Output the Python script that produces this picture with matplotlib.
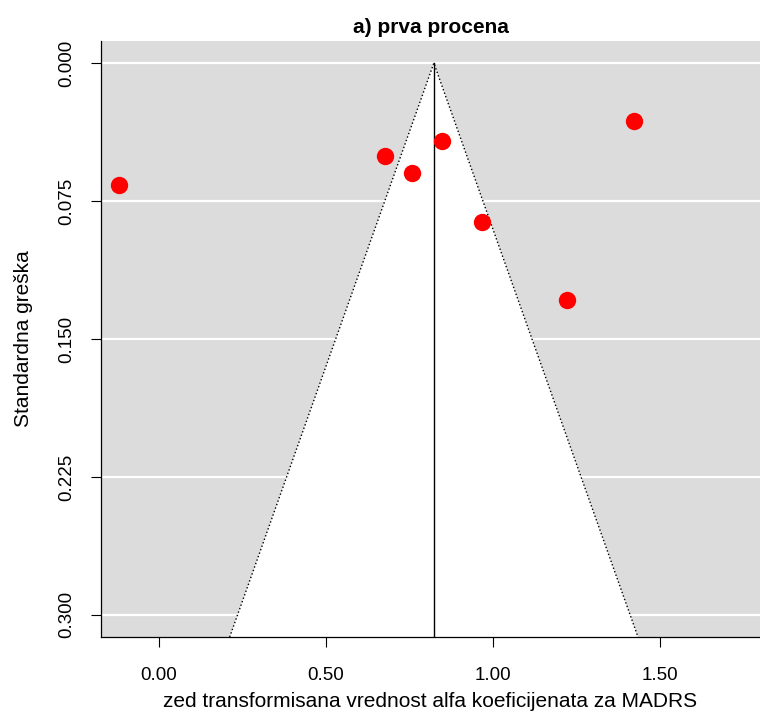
import numpy as np
import matplotlib
matplotlib.use("Agg")
import matplotlib.pyplot as plt

# effect sizes (zed transformed alpha) and their standard errors
yi = [-0.119, 0.678, 0.758, 0.848, 0.967, 1.221, 1.422]
sei = [0.0661, 0.0507, 0.0596, 0.0422, 0.0862, 0.129, 0.0315]
est = 0.823  # pooled estimate

xticks = [0.0, 0.5, 1.0, 1.5]
yticks = [0.000, 0.075, 0.150, 0.225, 0.300]
se_max = 0.312

plt.rcParams['font.family'] = ['Liberation Sans', 'DejaVu Sans']

fig = plt.figure(figsize=(7.6, 7.13), dpi=100)
ax = fig.add_axes([101 / 760, 1 - 637 / 713, 659 / 760, 596 / 713])
ax.set_facecolor('#dcdcdc')

# horizontal grid lines in white
for y in yticks:
    ax.axhline(y, color='white', lw=1.6, zorder=1)

# funnel region (pseudo confidence interval)
fx = [est - 1.96 * se_max, est, est + 1.96 * se_max]
fy = [se_max, 0, se_max]
ax.fill(fx, fy, color='white', zorder=2, lw=0)
ax.plot(fx, fy, color='black', lw=1.0, ls=':', zorder=3)
ax.plot([est, est], [0, se_max], color='black', lw=1.0, zorder=3)

ax.plot(yi, sei, 'o', color='red', markersize=12.5, markeredgewidth=0, zorder=4)

ax.set_xlim(-0.174, 1.80)
ax.set_ylim(se_max, -0.012)

ax.set_xticks(xticks)
ax.set_xticklabels(['%.2f' % v for v in xticks])
ax.set_yticks(yticks)
ax.set_yticklabels(['%.3f' % v for v in yticks], rotation=90, va='center')

ax.tick_params(axis='both', length=7.5, width=0.8, labelsize=13.5, direction='out')
ax.tick_params(axis='x', pad=14)
ax.tick_params(axis='y', pad=11)

ax.spines['top'].set_visible(False)
ax.spines['right'].set_visible(False)
ax.spines['left'].set_linewidth(0.9)
ax.spines['bottom'].set_linewidth(0.9)

ax.set_xlabel('zed transformisana vrednost alfa koeficijenata za MADRS', fontsize=15, labelpad=6)
ax.set_ylabel('Standardna greška', fontsize=15, labelpad=18)
ax.set_title('a) prva procena', fontsize=15, fontweight='bold', pad=6)

fig.savefig('out.png', dpi=100)
